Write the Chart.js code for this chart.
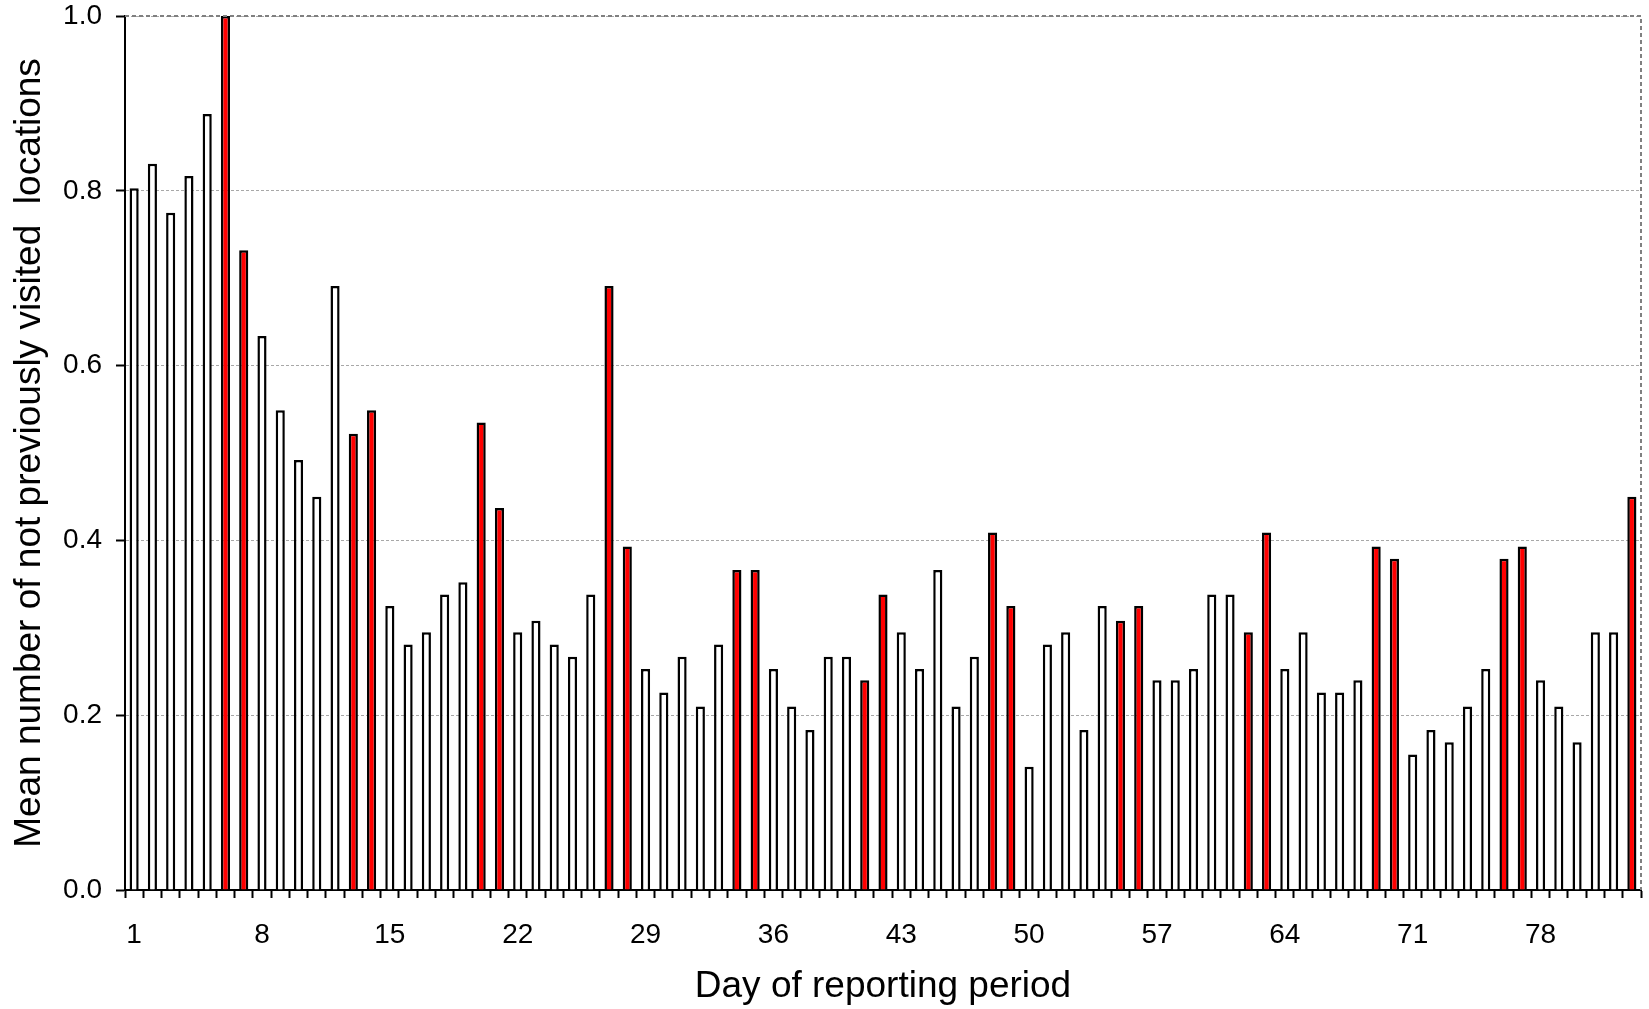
<!DOCTYPE html>
<html>
<head>
<meta charset="utf-8">
<script src="https://cdn.jsdelivr.net/npm/chart.js@4.4.1/dist/chart.umd.min.js"></script>
<style>
  html, body { margin: 0; padding: 0; background: #fff; }
  #wrap { width: 1649px; height: 1009px; position: relative; }
</style>
</head>
<body>
<div id="wrap"><canvas id="chart"></canvas></div>
<script>
// days 1..83 of the reporting period
var days = [];
for (var d = 1; d <= 83; d++) days.push(String(d));

var meanNewLocations = [
    0.803, 0.831, 0.775, 0.817, 0.888, 1.000, 0.732, 0.634, 0.549, 0.492,
    0.450, 0.691, 0.522, 0.549, 0.325, 0.281, 0.295, 0.338, 0.352, 0.535,
    0.437, 0.295, 0.308, 0.281, 0.267, 0.338, 0.691, 0.393, 0.253, 0.226,
    0.267, 0.210, 0.281, 0.366, 0.366, 0.253, 0.210, 0.183, 0.267, 0.267,
    0.240, 0.338, 0.295, 0.253, 0.366, 0.210, 0.267, 0.409, 0.325, 0.141,
    0.281, 0.295, 0.183, 0.325, 0.308, 0.325, 0.240, 0.240, 0.253, 0.338,
    0.338, 0.295, 0.409, 0.253, 0.295, 0.226, 0.226, 0.240, 0.393, 0.379,
    0.155, 0.183, 0.169, 0.210, 0.253, 0.379, 0.393, 0.240, 0.210, 0.169,
    0.295, 0.295, 0.450
];

// days drawn in red (weekends)
var redDays = [6, 7, 13, 14, 20, 21, 27, 28, 34, 35, 41, 42, 48, 49, 55, 56, 62, 63, 69, 70, 76, 77, 83];

// x tick labels that are printed
var shownTicks = ['1', '8', '15', '22', '29', '36', '43', '50', '57', '64', '71', '78'];

var FONT = 'Arial, "Liberation Sans", sans-serif';

// dashed grey frame on top / right of the plot
var framePlugin = {
    id: 'frame',
    afterDraw: function(chart){
        var a = chart.chartArea, ctx = chart.ctx;
        ctx.save();
        ctx.strokeStyle = '#808080';
        ctx.lineWidth = 2;
        ctx.setLineDash([4, 3]);
        ctx.beginPath();
        ctx.moveTo(a.left, a.top);
        ctx.lineTo(a.right, a.top);
        ctx.lineTo(a.right, a.bottom);
        ctx.stroke();
        ctx.restore();
    }
};

window.onload = function(){
    var colors = days.map(function(day){
        return redDays.indexOf(Number(day)) >= 0 ? '#ff0000' : '#ffffff';
    });

    window.mainChart = new Chart(document.getElementById('chart').getContext('2d'), {
        type: 'bar',
        data: {
            labels: days,
            datasets: [{
                data: meanNewLocations,
                backgroundColor: colors,
                borderColor: '#000000',
                borderWidth: 2.5,
                borderSkipped: 'start',
                barPercentage: 0.5,
                categoryPercentage: 1.0
            }]
        },
        options: {
            responsive: true,
            maintainAspectRatio: false,
            animation: false,
            layout: { padding: { left: 0, right: 8, top: 16, bottom: 0 } },
            plugins: {
                legend: { display: false },
                tooltip: { enabled: false }
            },
            scales: {
                x: {
                    offset: true,
                    grid: {
                        offset: true,
                        drawOnChartArea: false,
                        drawTicks: true,
                        tickLength: 8,
                        tickWidth: 2,
                        tickColor: '#000'
                    },
                    border: { display: true, color: '#000', width: 2 },
                    ticks: {
                        autoSkip: false,
                        maxRotation: 0,
                        padding: 20,
                        color: '#000',
                        font: { family: FONT, size: 28 },
                        callback: function(val, i){
                            var lab = this.getLabelForValue(val);
                            return shownTicks.indexOf(lab) >= 0 ? lab : '';
                        }
                    },
                    title: {
                        display: true,
                        text: 'Day of reporting period',
                        color: '#000',
                        font: { family: FONT, size: 37 },
                        padding: { top: 0, bottom: 0 }
                    },
                    afterFit: function(scale){
                        scale.height = 119;
                        scale.paddingLeft = 0;
                        scale.paddingRight = 0;
                    }
                },
                y: {
                    min: 0,
                    max: 1,
                    grid: {
                        color: '#a8a8a8',
                        lineWidth: 1,
                        tickLength: 9,
                        tickWidth: 2,
                        tickColor: '#000'
                    },
                    border: { display: true, color: '#000', width: 2, dash: [3, 2] },
                    ticks: {
                        stepSize: 0.2,
                        padding: 14,
                        color: '#000',
                        font: { family: FONT, size: 28 },
                        callback: function(v){ return v.toFixed(1); }
                    },
                    title: {
                        display: true,
                        text: 'Mean number of not previously visited  locations',
                        color: '#000',
                        font: { family: FONT, size: 37 },
                        padding: { top: 8, bottom: 0 }
                    },
                    afterFit: function(scale){
                        scale.width = 125;
                        scale.paddingTop = 0;
                        scale.paddingBottom = 0;
                    }
                }
            }
        },
        plugins: [framePlugin]
    });
};
</script>
</body>
</html>
